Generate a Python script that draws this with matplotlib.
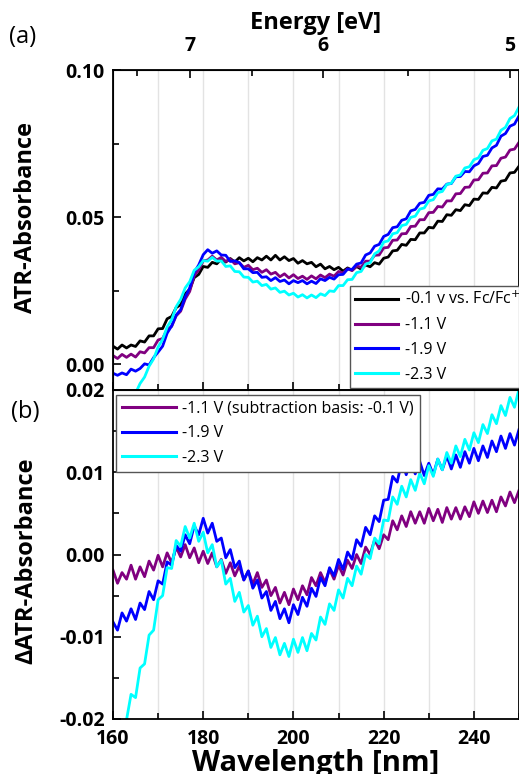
"""
ATR-UV spectra at several electrode potentials (a) and the
difference spectra against -0.1 V (b). Wavelength on bottom, energy on top.
"""

import numpy as np
import matplotlib.pyplot as plt
from matplotlib.ticker import MultipleLocator, NullFormatter, FixedLocator

plt.rcParams["font.family"] = ["Open Sans", "DejaVu Sans"]

# ---------------------------------------------------------
# Data, 1 nm steps from 160 to 250 nm
# values in units of 1e-3 absorbance
# ---------------------------------------------------------
wavelength = np.arange(160, 251, 1)

abs_m01 = [6.1, 5.1, 6.5, 5.5, 6.5, 6.0, 7.9, 7.5, 9.6, 9.6,
           12.0, 12.1, 15.4, 16.2, 19.2, 20.2, 23.9, 25.4, 29.4, 30.5,
           33.2, 32.9, 34.6, 34.1, 35.7, 34.7, 35.9, 34.7, 36.2, 35.1,
           36.0, 34.8, 36.2, 35.4, 36.7, 35.4, 37.0, 35.4, 36.5, 35.2,
           35.9, 34.3, 35.2, 34.1, 34.6, 33.1, 34.0, 32.4, 33.2, 32.1,
           32.9, 31.6, 32.7, 31.9, 33.2, 32.3, 33.7, 33.1, 34.5, 34.0,
           36.0, 36.4, 38.5, 38.7, 40.7, 40.4, 42.4, 42.3, 44.6, 44.6,
           46.5, 46.3, 48.6, 48.5, 50.8, 50.6, 52.5, 52.2, 54.2, 53.9,
           56.1, 56.0, 58.2, 58.1, 60.1, 59.9, 62.2, 62.5, 65.0, 65.2,
           67.3]

abs_m11 = [2.9, 1.9, 3.3, 2.3, 3.4, 2.4, 4.2, 3.8, 5.6, 5.6,
           8.2, 8.7, 11.8, 12.8, 16.4, 18.0, 22.1, 24.7, 30.0, 32.0,
           35.1, 35.4, 36.7, 35.4, 36.3, 34.9, 35.7, 34.1, 34.5, 32.9,
           33.6, 32.1, 32.6, 31.2, 32.1, 30.6, 31.2, 29.7, 30.7, 29.3,
           30.4, 29.1, 29.9, 28.8, 30.0, 29.0, 30.3, 29.4, 30.6, 29.9,
           31.5, 31.0, 32.4, 31.8, 33.4, 32.9, 35.0, 35.0, 37.0, 37.1,
           39.5, 39.7, 42.1, 42.2, 44.3, 44.4, 46.8, 46.9, 49.1, 49.1,
           51.5, 51.6, 53.6, 53.4, 55.5, 55.5, 57.9, 58.0, 60.1, 60.2,
           62.6, 62.7, 64.9, 65.0, 67.4, 67.5, 70.0, 70.4, 72.8, 73.1,
           75.4]

abs_m19 = [-3.1, -3.8, -3.0, -3.6, -1.7, -2.4, -1.5, 0.1, -0.3, 2.2,
           4.1, 6.1, 10.5, 13.0, 16.7, 18.5, 22.8, 25.9, 31.2, 33.7,
           37.2, 38.9, 37.7, 38.5, 37.1, 37.0, 34.9, 35.1, 34.5, 32.4,
           32.4, 31.1, 31.2, 29.5, 29.7, 28.4, 29.4, 28.1, 28.6, 27.3,
           28.4, 27.7, 28.4, 27.3, 28.2, 27.4, 29.0, 28.4, 29.5, 28.9,
           30.4, 30.5, 32.3, 32.2, 34.0, 34.4, 37.1, 37.8, 40.1, 40.7,
           43.4, 44.1, 46.4, 46.7, 48.9, 49.4, 52.1, 52.6, 54.7, 55.0,
           57.4, 57.7, 59.6, 59.5, 61.2, 61.4, 63.7, 63.8, 65.5, 65.4,
           67.4, 68.2, 70.6, 71.0, 73.5, 74.4, 77.5, 78.4, 80.9, 81.6,
           84.4]

abs_m23 = [-22.0, -20.3, -17.2, -15.4, -12.0, -9.9, -6.6, -4.4, -0.7, 1.8,
           5.8, 8.4, 12.6, 15.1, 19.5, 22.0, 25.9, 28.0, 31.9, 33.1,
           35.2, 35.0, 36.3, 35.0, 35.1, 33.2, 33.4, 31.5, 31.4, 29.6,
           29.5, 27.9, 28.2, 26.7, 27.1, 25.5, 25.9, 24.4, 24.8, 23.5,
           24.1, 22.8, 23.6, 22.5, 23.5, 22.6, 23.9, 23.3, 24.9, 24.7,
           26.7, 26.7, 28.7, 28.8, 31.1, 31.5, 34.0, 34.5, 37.5, 38.5,
           41.5, 41.9, 44.3, 44.7, 47.1, 47.5, 49.9, 50.3, 52.7, 53.1,
           55.5, 55.9, 58.3, 58.7, 61.1, 61.5, 63.9, 64.3, 66.7, 67.1,
           69.5, 70.1, 72.7, 73.3, 75.9, 76.5, 79.5, 80.5, 83.5, 84.5,
           87.4]

# difference spectra (basis: -0.1 V)
diff_m11 = [-1.9, -3.5, -2.2, -3.0, -1.3, -3.0, -1.5, -2.7, -0.8, -1.9,
            -0.1, -1.5, 0.2, -1.0, 0.9, -0.3, 1.2, -0.4, 0.8, -1.0,
            0.4, -1.1, 0.2, -1.5, -0.6, -2.3, -1.0, -2.6, -1.4, -3.1,
            -2.0, -3.6, -2.2, -4.0, -3.1, -5.0, -4.0, -5.9, -4.6, -6.1,
            -4.2, -5.5, -3.8, -4.9, -2.8, -3.8, -2.2, -3.4, -1.8, -3.0,
            -1.3, -2.5, -0.7, -1.7, 0.0, -1.1, 0.9, 0.0, 1.8, 0.7,
            2.4, 1.8, 4.1, 3.0, 4.7, 3.4, 5.2, 3.8, 5.2, 3.8,
            5.6, 4.1, 5.5, 3.9, 5.7, 4.3, 5.7, 4.3, 5.8, 4.6,
            6.4, 5.0, 6.5, 5.1, 6.6, 5.2, 7.0, 5.9, 7.6, 6.3,
            7.8]

diff_m19 = [-8.2, -9.2, -7.1, -8.1, -6.6, -7.9, -5.9, -6.7, -4.5, -5.5,
            -3.2, -3.6, -0.9, -1.3, 1.1, 0.4, 2.4, 1.3, 3.5, 2.4,
            4.4, 2.6, 3.8, 1.6, 2.0, -0.4, 0.6, -1.6, -0.8, -3.1,
            -2.0, -4.1, -3.1, -5.3, -4.5, -6.8, -5.7, -7.8, -6.6, -8.3,
            -6.1, -7.3, -5.2, -6.3, -4.1, -5.1, -2.8, -3.8, -1.6, -2.6,
            -0.6, -1.8, 0.3, -0.6, 1.8, 1.0, 3.3, 2.4, 4.7, 4.0,
            6.6, 6.7, 9.5, 8.8, 11.3, 9.7, 11.4, 9.8, 11.3, 9.6,
            11.1, 9.7, 11.6, 10.3, 12.0, 10.4, 12.1, 10.6, 12.5, 11.1,
            12.9, 11.4, 13.2, 11.8, 13.8, 12.5, 14.4, 12.9, 14.7, 13.3,
            15.2]

diff_m23 = [-26.0, -24.8, -20.9, -20.1, -17.0, -17.4, -13.8, -13.3, -9.8, -9.2,
            -5.5, -5.0, -1.6, -1.7, 1.7, 1.0, 3.4, 2.0, 3.8, 1.6,
            2.7, 0.2, 1.2, -1.5, -0.7, -3.6, -2.9, -5.7, -4.6, -7.0,
            -6.2, -8.6, -7.5, -10.0, -9.0, -11.3, -10.1, -12.2, -10.8, -12.4,
            -10.3, -11.9, -10.1, -11.7, -9.6, -10.4, -7.6, -8.5, -6.0, -6.8,
            -4.3, -5.3, -2.9, -3.8, -1.4, -2.4, 0.0, -0.5, 2.0, 1.3,
            4.2, 4.1, 7.0, 6.1, 8.3, 7.0, 9.1, 7.8, 9.9, 8.6,
            10.8, 9.5, 11.6, 10.3, 12.4, 11.1, 13.2, 11.9, 14.0, 12.7,
            14.8, 13.6, 15.8, 14.7, 17.0, 15.9, 18.1, 16.9, 19.1, 17.9,
            20.1]

top_labels = ["-0.1 v vs. Fc/Fc$^{+}$", "-1.1 V", "-1.9 V", "-2.3 V"]
bottom_labels = ["-1.1 V (subtraction basis: -0.1 V)", "-1.9 V", "-2.3 V"]

energy_ticks = [7, 6, 5]
energy_minor = [7.5, 6.5, 5.5]

colors_top = ["#000000", "#800080", "#0000ff", "#00ffff"]
colors_bottom = ["#800080", "#0000ff", "#00ffff"]

HC = 1239.84  # eV nm


def style_axis(ax):
    ax.set_xlim(160, 250)
    ax.xaxis.set_major_locator(MultipleLocator(20))
    ax.xaxis.set_minor_locator(MultipleLocator(10))
    ax.tick_params(which="both", direction="in", width=1.2, labelsize=14)
    ax.tick_params(axis="y", pad=6)
    ax.tick_params(which="major", length=6)
    ax.tick_params(which="minor", length=4)
    for lbl in ax.get_xticklabels() + ax.get_yticklabels():
        lbl.set_fontweight("bold")
    for sp in ax.spines.values():
        sp.set_linewidth(1.3)
    for x in range(170, 250, 10):
        ax.axvline(x, color="#e3e3e3", lw=1.0, zorder=0)


def style_legend(leg):
    leg.get_frame().set_linewidth(1.0)
    for h in leg.get_lines():
        h.set_linewidth(2.2)


fig = plt.figure(figsize=(5.19, 7.74), dpi=100)
left, right = 113 / 519, 1.0
ax1 = fig.add_axes([left, 1 - 390 / 774, right - left, 320 / 774])
ax2 = fig.add_axes([left, 1 - 719 / 774, right - left, 329 / 774])

# ---------------- panel (a)
for data, c, lab in zip([abs_m01, abs_m11, abs_m19, abs_m23], colors_top, top_labels):
    ax1.plot(wavelength, np.array(data) / 1000, color=c, lw=2.0, label=lab)
ax1.set_ylim(-0.0088, 0.10)
ax1.yaxis.set_major_locator(MultipleLocator(0.05))
ax1.yaxis.set_minor_locator(MultipleLocator(0.025))
ax1.yaxis.set_major_formatter(lambda v, p: f"{v:.2f}")
style_axis(ax1)
ax1.xaxis.set_major_formatter(NullFormatter())
ax1.set_ylabel("ATR-Absorbance", fontsize=17, fontweight="bold")
ax1.yaxis.set_label_coords(-0.185, 0.54)

leg1 = ax1.legend(loc="lower left", bbox_to_anchor=(0.575, -0.005), fontsize=11.5,
                  frameon=True, fancybox=False, framealpha=1, edgecolor="#555555",
                  handlelength=2.7, labelspacing=0.55, borderaxespad=0.2,
                  handletextpad=0.4, borderpad=0.35)
style_legend(leg1)

# energy axis on top
ax_top = ax1.twiny()
ax_top.set_xlim(ax1.get_xlim())
ax_top.xaxis.set_major_locator(FixedLocator([HC / e for e in energy_ticks]))
ax_top.xaxis.set_minor_locator(FixedLocator([HC / e for e in energy_minor]))
ax_top.set_xticklabels([str(e) for e in energy_ticks], fontsize=14, fontweight="bold")
ax_top.tick_params(which="both", direction="in", width=1.2, pad=10)
ax_top.tick_params(which="major", length=6)
ax_top.tick_params(which="minor", length=4)
ax_top.set_xlabel("Energy [eV]", fontsize=17, fontweight="bold", labelpad=5)

# ---------------- panel (b)
for data, c, lab in zip([diff_m11, diff_m19, diff_m23], colors_bottom, bottom_labels):
    ax2.plot(wavelength, np.array(data) / 1000, color=c, lw=2.0, label=lab)
ax2.set_ylim(-0.02, 0.02)
ax2.yaxis.set_major_locator(MultipleLocator(0.01))
ax2.yaxis.set_minor_locator(MultipleLocator(0.005))
ax2.yaxis.set_major_formatter(lambda v, p: f"{v:.2f}")
style_axis(ax2)
ax2.tick_params(axis="x", pad=7)
ax2.set_xlabel("Wavelength [nm]", fontsize=21, fontweight="bold", labelpad=0)
ax2.set_ylabel("ΔATR-Absorbance", fontsize=17, fontweight="bold")
ax2.yaxis.set_label_coords(-0.185, 0.48)

leg2 = ax2.legend(loc="upper left", bbox_to_anchor=(0.0, 0.995), fontsize=11.5,
                  frameon=True, fancybox=False, framealpha=1, edgecolor="#555555",
                  handlelength=3.4, labelspacing=0.55, borderaxespad=0.2,
                  handletextpad=0.4, borderpad=0.35)
style_legend(leg2)

fig.text(0.018, 0.952, "(a)", fontsize=17, va="center")
fig.text(0.022, 0.468, "(b)", fontsize=17, va="center")

fig.savefig("out.png", dpi=100)
